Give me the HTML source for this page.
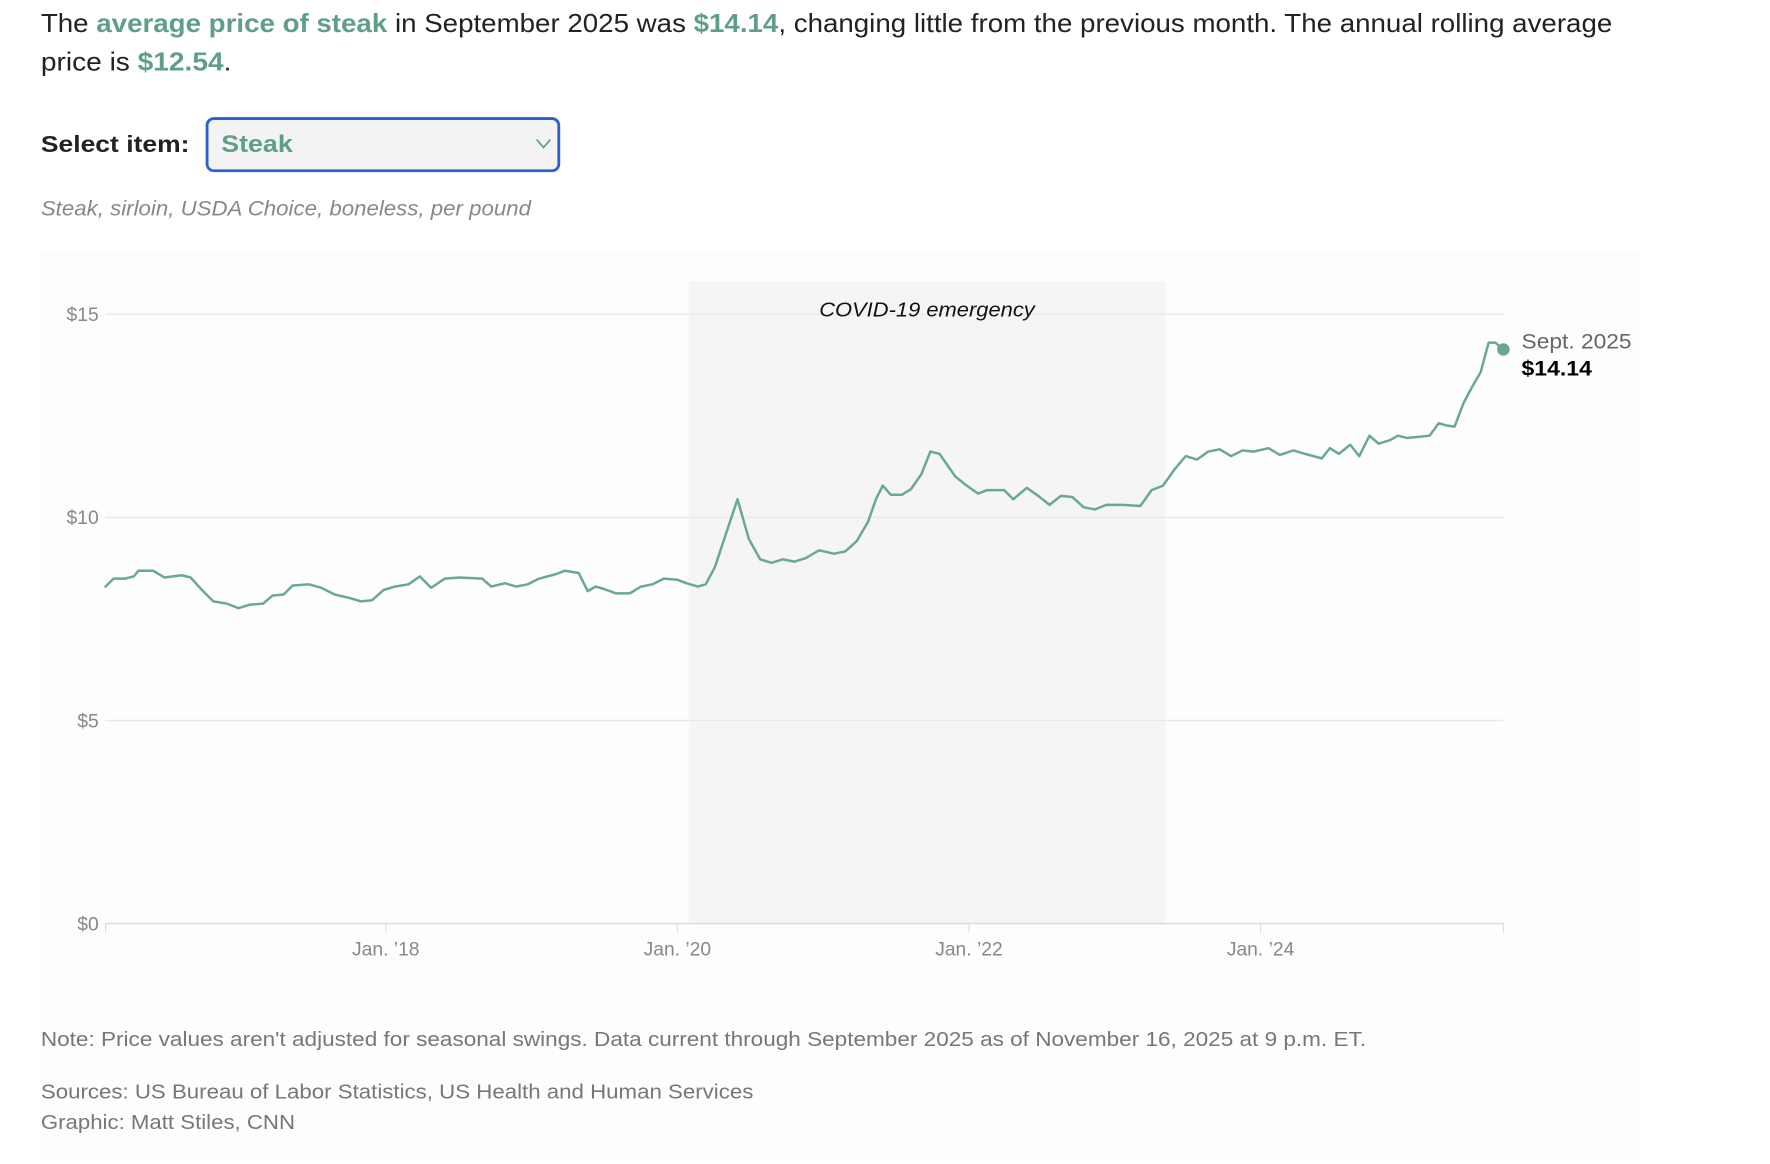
<!DOCTYPE html>
<html><head><meta charset="utf-8"><style>
html,body{margin:0;padding:0;background:#fff;}
svg{display:block;font-family:"Liberation Sans",sans-serif;}
</style></head><body>
<svg width="1770" height="1164" viewBox="0 0 1560 1025.9" xmlns="http://www.w3.org/2000/svg">
<rect x="0" y="0" width="1560" height="1026" fill="#fff"/>
<rect x="36" y="222" width="1410" height="800" fill="#fdfdfd"/>
<rect x="607" y="248" width="420" height="566" fill="#f5f5f5"/>
<text x="36" y="28" font-size="23" fill="#222" textLength="1385" lengthAdjust="spacingAndGlyphs">The <tspan font-weight="bold" fill="#5f9e8b">average price of steak</tspan> in September 2025 was <tspan font-weight="bold" fill="#5f9e8b">$14.14</tspan>, changing little from the previous month. The annual rolling average</text>
<text x="36" y="62" font-size="23" fill="#222" textLength="168" lengthAdjust="spacingAndGlyphs">price is <tspan font-weight="bold" fill="#5f9e8b">$12.54</tspan>.</text>
<text x="36" y="134" font-size="20" font-weight="bold" fill="#222" textLength="131" lengthAdjust="spacingAndGlyphs">Select item:</text>
<rect x="182.5" y="104.5" width="310" height="46" rx="6" fill="#f3f3f3" stroke="#2d5fcf" stroke-width="2.5"/>
<text x="195" y="134" font-size="21" font-weight="bold" fill="#5f9e8b" textLength="63" lengthAdjust="spacingAndGlyphs">Steak</text>
<polyline points="473,123 479,130 485,123" fill="none" stroke="#5f9e8b" stroke-width="1.5"/>
<text x="36" y="190" font-size="18.5" font-style="italic" fill="#888" textLength="432" lengthAdjust="spacingAndGlyphs">Steak, sirloin, USDA Choice, boneless, per pound</text>
<g stroke="#e9e9e9" stroke-width="1.2">
<line x1="93" y1="277" x2="1325" y2="277"/>
<line x1="93" y1="456" x2="1325" y2="456"/>
<line x1="93" y1="635" x2="1325" y2="635"/>
</g>
<line x1="93" y1="814" x2="1325" y2="814" stroke="#ddd" stroke-width="1.5"/>
<g stroke="#ddd" stroke-width="1">
<line x1="93" y1="814" x2="93" y2="822"/><line x1="340" y1="814" x2="340" y2="822"/><line x1="597" y1="814" x2="597" y2="822"/><line x1="854" y1="814" x2="854" y2="822"/><line x1="1111" y1="814" x2="1111" y2="822"/><line x1="1325" y1="814" x2="1325" y2="822"/>
</g>
<g font-size="17" fill="#888" text-anchor="end">
<text x="87" y="283">$15</text><text x="87" y="462">$10</text><text x="87" y="641">$5</text><text x="87" y="820">$0</text>
</g>
<g font-size="17" fill="#888" text-anchor="middle">
<text x="340" y="842">Jan. ’18</text><text x="597" y="842">Jan. ’20</text><text x="854" y="842">Jan. ’22</text><text x="1111" y="842">Jan. ’24</text>
</g>
<text x="817" y="279" font-size="18" font-style="italic" fill="#111" text-anchor="middle" textLength="190" lengthAdjust="spacingAndGlyphs">COVID-19 emergency</text>
<polyline fill="none" stroke="#6aa896" stroke-width="2.2" stroke-linejoin="round" stroke-linecap="round" points="93,517 100,510 110,510 118,508 122,503 135,503 145,509 160,507 168,509 178,520 188,530 200,532 210,536 220,533 232,532 240,525 250,524 258,516 272,515 283,518 295,524 308,527 318,530 328,529 338,520 348,517 360,515 370,508 380,518 392,510 405,509 425,510 433,517 445,514 455,517 465,515 475,510 490,506 498,503 510,505 518,521 525,517 532,519 543,523 555,523 565,517 575,515 585,510 597,511 605,514 615,517 622,515 630,500 640,470 650,440 660,475 670,493 680,496 690,493 700,495 710,492 722,485 735,488 745,486 755,477 765,460 772,440 778,428 785,436 795,436 803,431 812,418 820,398 828,400 835,410 842,420 852,428 862,435 870,432 885,432 893,440 905,430 915,437 925,445 935,437 945,438 955,447 965,449 975,445 990,445 1005,446 1015,432 1025,428 1035,414 1045,402 1055,405 1065,398 1075,396 1085,402 1095,397 1105,398 1118,395 1128,401 1140,397 1150,400 1165,404 1172,395 1180,400 1190,392 1198,402 1207,384 1215,391 1225,388 1232,384 1240,386 1250,385 1260,384 1268,373 1275,375 1282,376 1290,355 1298,340 1305,328 1312,302 1318,302 1325,308"/>
<circle cx="1325" cy="308" r="5.5" fill="#6aa896"/>
<text x="1341" y="307" font-size="18.5" fill="#666" textLength="97" lengthAdjust="spacingAndGlyphs">Sept. 2025</text>
<text x="1341" y="331" font-size="18.5" font-weight="bold" fill="#000" textLength="62" lengthAdjust="spacingAndGlyphs">$14.14</text>
<g font-size="18" fill="#777">
<text x="36" y="922" textLength="1168" lengthAdjust="spacingAndGlyphs">Note: Price values aren't adjusted for seasonal swings. Data current through September 2025 as of November 16, 2025 at 9 p.m. ET.</text>
<text x="36" y="968" textLength="628" lengthAdjust="spacingAndGlyphs">Sources: US Bureau of Labor Statistics, US Health and Human Services</text>
<text x="36" y="995" textLength="224" lengthAdjust="spacingAndGlyphs">Graphic: Matt Stiles, CNN</text>
</g>
</svg>
</body></html>
